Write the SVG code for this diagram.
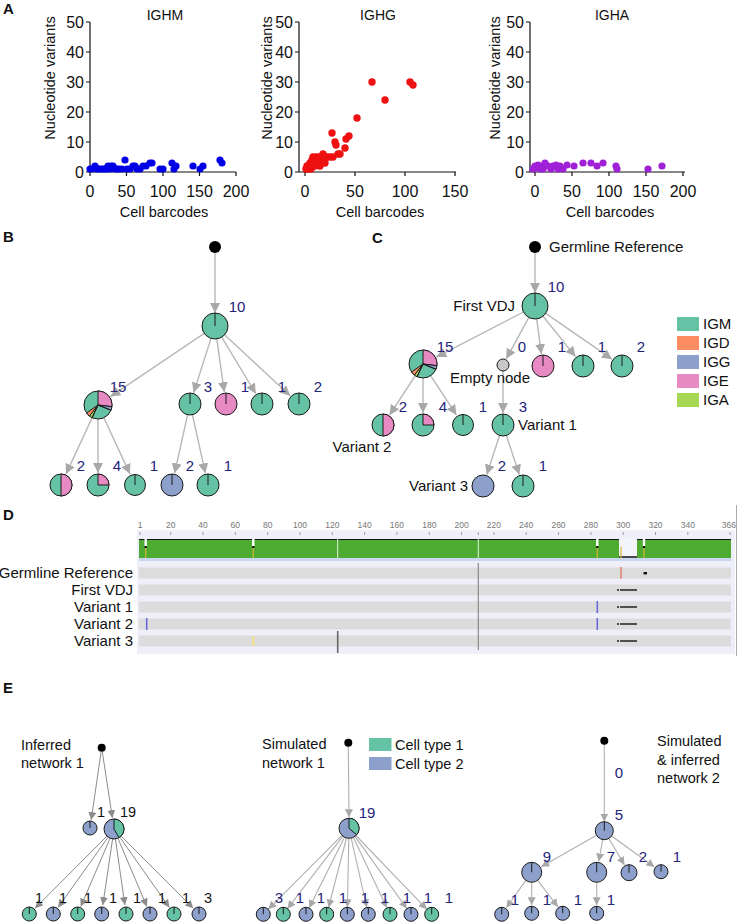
<svg xmlns="http://www.w3.org/2000/svg" width="738" height="923" viewBox="0 0 738 923" font-family="'Liberation Sans', Arial, sans-serif">
<style>
.pl{font-size:15px;font-weight:bold;fill:#111}
.ax{stroke:#111;stroke-width:1.2;fill:none}
.tk{font-size:16px;fill:#111}
.at{font-size:14.5px;fill:#111;text-anchor:middle}
.ttl{font-size:14px;fill:#111;text-anchor:middle}
.lb{font-size:15px;fill:#24247a;text-anchor:middle}
.lk{font-size:14.5px;fill:#111;text-anchor:middle}
.tx{font-size:15px;fill:#111}
.te{font-size:14.5px;fill:#111}
.n{stroke:#1a1a1a;stroke-width:1}
.g{fill:#66c2a5}.b{fill:#8da0cb}.p{fill:#e78ac3}.o{fill:#fc8d62}.y{fill:#a6d854}
.ln{stroke:#1a1a1a;stroke-width:1;fill:none}
.e1{stroke:#b8b8b8;stroke-width:1.4;fill:none;marker-end:url(#ah)}
.e2{stroke:#8c8c8c;stroke-width:1;fill:none;marker-end:url(#ahd)}
.e3{stroke:#b0b0b0;stroke-width:1.1;fill:none;marker-end:url(#ahs)}
.dm{fill:#0000e6}.dg{fill:#ee1111}.da{fill:#a020d8}
.rt{font-size:8.5px;fill:#777;text-anchor:middle}
.rl{font-size:15px;fill:#111;text-anchor:end}
</style>
<defs>
<marker id="ah" viewBox="0 0 10 10" refX="10" refY="5" markerWidth="10" markerHeight="10" markerUnits="userSpaceOnUse" orient="auto"><path d="M0,0L10,5L0,10z" fill="#a8a8a8"/></marker>
<marker id="ahd" viewBox="0 0 10 10" refX="10" refY="5" markerWidth="8" markerHeight="8" markerUnits="userSpaceOnUse" orient="auto"><path d="M0,0L10,5L0,10z" fill="#8c8c8c"/></marker>
<marker id="ahs" viewBox="0 0 10 10" refX="10" refY="5" markerWidth="8" markerHeight="8" markerUnits="userSpaceOnUse" orient="auto"><path d="M0,0L10,5L0,10z" fill="#a8a8a8"/></marker>
</defs>
<rect width="738" height="923" fill="#fff"/>

<!-- ================= Panel A ================= -->
<text class="pl" x="3" y="14">A</text>
<g id="plot-IGHM">
<text class="ttl" x="165" y="20">IGHM</text>
<text class="at" transform="translate(55,78) rotate(-90)">Nucleotide variants</text>
<path class="ax" d="M90,22V172H236M86,22H90M86,52H90M86,82H90M86,112H90M86,142H90M86,172H90M90,172V176M126.5,172V176M163,172V176M199.5,172V176M236,172V176"/>
<g class="tk" text-anchor="end"><text x="84" y="27.5">50</text><text x="84" y="57.5">40</text><text x="84" y="87.5">30</text><text x="84" y="117.5">20</text><text x="84" y="147.5">10</text><text x="84" y="177.5">0</text></g>
<g class="tk" text-anchor="middle"><text x="90" y="197">0</text><text x="126.5" y="197">50</text><text x="163" y="197">100</text><text x="199.5" y="197">150</text><text x="236" y="197">200</text></g>
<text class="at" x="164" y="217">Cell barcodes</text>
<g class="dm">
<circle cx="90" cy="169" r="3.6"/><circle cx="92" cy="169" r="3.6"/><circle cx="95" cy="166" r="3.6"/><circle cx="97" cy="169" r="3.6"/><circle cx="99" cy="169" r="3.6"/><circle cx="101" cy="169" r="3.6"/><circle cx="103" cy="169" r="3.6"/><circle cx="105" cy="169" r="3.6"/><circle cx="107" cy="169" r="3.6"/><circle cx="108" cy="166" r="3.6"/><circle cx="110" cy="169" r="3.6"/><circle cx="111" cy="166" r="3.6"/><circle cx="113" cy="166" r="3.6"/><circle cx="115" cy="169" r="3.6"/><circle cx="117" cy="169" r="3.6"/><circle cx="119" cy="169" r="3.6"/><circle cx="122" cy="169" r="3.6"/><circle cx="125" cy="160" r="3.6"/><circle cx="127" cy="169" r="3.6"/><circle cx="130" cy="169" r="3.6"/><circle cx="133" cy="166" r="3.6"/><circle cx="135" cy="166" r="3.6"/><circle cx="137" cy="169" r="3.6"/><circle cx="140" cy="169" r="3.6"/><circle cx="143" cy="166" r="3.6"/><circle cx="146" cy="166" r="3.6"/><circle cx="150" cy="163" r="3.6"/><circle cx="152" cy="163" r="3.6"/><circle cx="160" cy="169" r="3.6"/><circle cx="163" cy="169" r="3.6"/><circle cx="172" cy="163" r="3.6"/><circle cx="174" cy="169" r="3.6"/><circle cx="176" cy="166" r="3.6"/><circle cx="193" cy="166" r="3.6"/><circle cx="200" cy="169" r="3.6"/><circle cx="203" cy="166" r="3.6"/><circle cx="220" cy="160" r="3.6"/><circle cx="222" cy="163" r="3.6"/>
</g>
</g>

<g id="plot-IGHG">
<text class="ttl" x="378" y="20">IGHG</text>
<text class="at" transform="translate(272,78) rotate(-90)">Nucleotide variants</text>
<path class="ax" d="M299,22V172H456M295,22H299M295,52H299M295,82H299M295,112H299M295,142H299M295,172H299M305,172V176M355,172V176M405,172V176M455,172V176"/>
<g class="tk" text-anchor="end"><text x="293" y="27.5">50</text><text x="293" y="57.5">40</text><text x="293" y="87.5">30</text><text x="293" y="117.5">20</text><text x="293" y="147.5">10</text><text x="293" y="177.5">0</text></g>
<g class="tk" text-anchor="middle"><text x="305" y="197">0</text><text x="355" y="197">50</text><text x="405" y="197">100</text><text x="455" y="197">150</text></g>
<text class="at" x="380" y="217">Cell barcodes</text>
<g class="dg">
<circle cx="306" cy="169" r="3.7"/><circle cx="307" cy="166" r="3.7"/><circle cx="308" cy="169" r="3.7"/><circle cx="309" cy="166" r="3.7"/><circle cx="310" cy="163" r="3.7"/><circle cx="311" cy="169" r="3.7"/><circle cx="312" cy="160" r="3.7"/><circle cx="312" cy="166" r="3.7"/><circle cx="313" cy="157" r="3.7"/><circle cx="314" cy="163" r="3.7"/><circle cx="315" cy="166" r="3.7"/><circle cx="315" cy="160" r="3.7"/><circle cx="316" cy="157" r="3.7"/><circle cx="317" cy="163" r="3.7"/><circle cx="318" cy="160" r="3.7"/><circle cx="319" cy="157" r="3.7"/><circle cx="320" cy="166" r="3.7"/><circle cx="320" cy="160" r="3.7"/><circle cx="321" cy="163" r="3.7"/><circle cx="322" cy="157" r="3.7"/><circle cx="323" cy="154" r="3.7"/><circle cx="324" cy="160" r="3.7"/><circle cx="325" cy="157" r="3.7"/><circle cx="325" cy="163" r="3.7"/><circle cx="327" cy="157" r="3.7"/><circle cx="330" cy="157" r="3.7"/><circle cx="332" cy="133" r="3.7"/><circle cx="333" cy="157" r="3.7"/><circle cx="335" cy="142" r="3.7"/><circle cx="336" cy="145" r="3.7"/><circle cx="338" cy="154" r="3.7"/><circle cx="340" cy="154" r="3.7"/><circle cx="345" cy="148" r="3.7"/><circle cx="346" cy="139" r="3.7"/><circle cx="349" cy="136" r="3.7"/><circle cx="357" cy="118" r="3.7"/><circle cx="372" cy="82" r="3.7"/><circle cx="385" cy="100" r="3.7"/><circle cx="410" cy="82" r="3.7"/><circle cx="413" cy="85" r="3.7"/>
</g>
</g>

<g id="plot-IGHA">
<text class="ttl" x="612" y="20">IGHA</text>
<text class="at" transform="translate(500,78) rotate(-90)">Nucleotide variants</text>
<path class="ax" d="M530,22V172H685M526,22H530M526,52H530M526,82H530M526,112H530M526,142H530M526,172H530M535,172V176M572,172V176M609,172V176M646,172V176M683,172V176"/>
<g class="tk" text-anchor="end"><text x="524" y="27.5">50</text><text x="524" y="57.5">40</text><text x="524" y="87.5">30</text><text x="524" y="117.5">20</text><text x="524" y="147.5">10</text><text x="524" y="177.5">0</text></g>
<g class="tk" text-anchor="middle"><text x="535" y="197">0</text><text x="572" y="197">50</text><text x="609" y="197">100</text><text x="646" y="197">150</text><text x="683" y="197">200</text></g>
<text class="at" x="610" y="217">Cell barcodes</text>
<g class="da">
<circle cx="533" cy="169" r="3.6"/><circle cx="535" cy="166" r="3.6"/><circle cx="537" cy="168" r="3.6"/><circle cx="538" cy="165" r="3.6"/><circle cx="540" cy="166" r="3.6"/><circle cx="541" cy="169" r="3.6"/><circle cx="543" cy="169" r="3.6"/><circle cx="545" cy="163" r="3.6"/><circle cx="548" cy="166" r="3.6"/><circle cx="551" cy="169" r="3.6"/><circle cx="553" cy="166" r="3.6"/><circle cx="556" cy="165" r="3.6"/><circle cx="558" cy="169" r="3.6"/><circle cx="560" cy="166" r="3.6"/><circle cx="563" cy="169" r="3.6"/><circle cx="567" cy="165" r="3.6"/><circle cx="574" cy="166" r="3.6"/><circle cx="583" cy="163" r="3.6"/><circle cx="591" cy="163" r="3.6"/><circle cx="597" cy="166" r="3.6"/><circle cx="603" cy="163" r="3.6"/><circle cx="616" cy="166" r="3.6"/><circle cx="617" cy="169" r="3.6"/><circle cx="648" cy="169" r="3.6"/><circle cx="662" cy="166" r="3.6"/>
</g>
</g>

<!-- ================= Panel B ================= -->
<text class="pl" x="3" y="242">B</text>
<g id="B-edges">
<path class="e1" d="M215,253V313"/>
<path class="e1" d="M204.2,333.3L110.4,396.6"/>
<path class="e1" d="M211,338.4L193.7,392.6"/>
<path class="e1" d="M216.8,338.9L224.3,392.1"/>
<path class="e1" d="M221.7,337.1L255.8,393.7"/>
<path class="e1" d="M224.5,334.8L290.2,395.8"/>
<path class="e1" d="M92.1,417.7L66,474.1"/>
<path class="e1" d="M98,419V473"/>
<path class="e1" d="M103.9,417.7L130,474.1"/>
<path class="e1" d="M187.6,414.7L174.6,473.3"/>
<path class="e1" d="M192.4,414.7L205.4,473.3"/>
</g>
<g id="B-root"><circle cx="215" cy="247" r="6" fill="#000"/></g>
<g id="B-n10" transform="translate(215,326)"><circle class="n g" r="13"/><path class="ln" d="M0,0V-13"/></g>
<g id="B-n15" transform="translate(98,405)"><circle class="n g" r="14"/>
<path class="n p" d="M0,0L0,-14A14,14 0 0 1 13.9,1.71Z"/><path class="n b" d="M0,0L13.9,1.71A14,14 0 0 1 12.98,5.24Z"/><path class="n y" d="M0,0L-5.92,12.69A14,14 0 0 1 -8.62,11.03Z"/><path class="n o" d="M0,0L-8.62,11.03A14,14 0 0 1 -11.47,8.03Z"/><path class="ln" d="M0,0L12.98,5.24M0,0L-5.92,12.69"/></g>
<g id="B-n3" transform="translate(190,404)"><circle class="n g" r="11"/><path class="ln" d="M0,0V-11"/></g>
<g id="B-pink" transform="translate(226,404)"><circle class="n p" r="11"/><path class="ln" d="M0,0V-11"/></g>
<g id="B-g1" transform="translate(262,404)"><circle class="n g" r="11"/><path class="ln" d="M0,0V-11"/></g>
<g id="B-g2" transform="translate(299,404)"><circle class="n g" r="11"/><path class="ln" d="M0,0V-11"/></g>
<g id="B-half" transform="translate(61,485)"><circle class="n g" r="11"/><path class="n p" d="M0,-11A11,11 0 0 1 0,11Z"/></g>
<g id="B-quarter" transform="translate(98,485)"><circle class="n g" r="11"/><path class="n p" d="M0,0L0,-11A11,11 0 0 1 11,0Z"/></g>
<g id="B-g3" transform="translate(135,485)"><circle class="n g" r="10.5"/><path class="ln" d="M0,0V-10.5"/></g>
<g id="B-blue" transform="translate(172,485)"><circle class="n b" r="11"/><path class="ln" d="M0,0V-11"/></g>
<g id="B-g4" transform="translate(208,485)"><circle class="n g" r="11"/><path class="ln" d="M0,0V-11"/></g>
<g id="B-labels">
<text class="lb" x="237" y="312">10</text>
<text class="lb" x="118" y="392">15</text><text class="lb" x="208" y="392">3</text><text class="lb" x="245" y="392">1</text><text class="lb" x="282" y="392">1</text><text class="lb" x="318" y="392">2</text>
<text class="lb" x="81" y="471">2</text><text class="lb" x="117" y="471">4</text><text class="lb" x="154" y="471">1</text><text class="lb" x="190" y="471">2</text><text class="lb" x="228" y="471">1</text>
</g>

<!-- ================= Panel C ================= -->
<text class="pl" x="372" y="243">C</text>
<g id="C-edges">
<path class="e1" d="M535,253V293"/>
<path class="e1" d="M523.5,312L436.3,357.1"/>
<path class="e1" d="M528.8,317.4L506.3,358.8"/>
<path class="e1" d="M536.7,318.9L541.4,354.1"/>
<path class="e1" d="M543.1,316.2L575.5,356.6"/>
<path class="e1" d="M545.7,313.4L612.1,359.2"/>
<path class="e1" d="M503,371V413"/>
<path class="e1" d="M415.3,375.7L389.6,415"/>
<path class="e1" d="M423,378V413"/>
<path class="e1" d="M430.7,375.7L456.4,415"/>
<path class="e1" d="M499.6,435.5L486.7,474.6"/>
<path class="e1" d="M506.4,435.5L519.3,474.6"/>
</g>
<g id="C-root"><circle cx="535" cy="247" r="6" fill="#000"/><text class="tx" x="549" y="252">Germline Reference</text></g>
<g id="C-first"><g transform="translate(535,306)"><circle class="n g" r="13"/><path class="ln" d="M0,0V-13"/></g><text class="tx" x="515" y="311" text-anchor="end">First VDJ</text></g>
<g id="C-n15" transform="translate(423,364)"><circle class="n g" r="14"/>
<path class="n p" d="M0,0L0,-14A14,14 0 0 1 13.9,1.71Z"/><path class="n b" d="M0,0L13.9,1.71A14,14 0 0 1 12.98,5.24Z"/><path class="n y" d="M0,0L-5.92,12.69A14,14 0 0 1 -8.62,11.03Z"/><path class="n o" d="M0,0L-8.62,11.03A14,14 0 0 1 -11.47,8.03Z"/><path class="ln" d="M0,0L12.98,5.24M0,0L-5.92,12.69"/></g>
<g id="C-empty"><circle class="n" cx="503" cy="365" r="6" fill="#c8c8c8"/><text class="tx" x="490" y="383" text-anchor="middle">Empty node</text></g>
<g id="C-pink" transform="translate(543,366)"><circle class="n p" r="11"/><path class="ln" d="M0,0V-11"/></g>
<g id="C-g1" transform="translate(583,366)"><circle class="n g" r="11"/><path class="ln" d="M0,0V-11"/></g>
<g id="C-g2" transform="translate(622,366)"><circle class="n g" r="11"/><path class="ln" d="M0,0V-11"/></g>
<g id="C-var2"><g transform="translate(383,425)"><circle class="n g" r="11"/><path class="n p" d="M0,-11A11,11 0 0 1 0,11Z"/></g><text class="tx" x="362" y="452" text-anchor="middle">Variant 2</text></g>
<g id="C-quarter" transform="translate(423,425)"><circle class="n g" r="11"/><path class="n p" d="M0,0L0,-11A11,11 0 0 1 11,0Z"/></g>
<g id="C-g3" transform="translate(463,425)"><circle class="n g" r="10.5"/><path class="ln" d="M0,0V-10.5"/></g>
<g id="C-var1"><g transform="translate(503,425)"><circle class="n g" r="11"/><path class="ln" d="M0,0V-11"/></g><text class="tx" x="518" y="430">Variant 1</text></g>
<g id="C-var3"><g transform="translate(483,486)"><circle class="n b" r="11"/></g><text class="tx" x="468" y="491" text-anchor="end">Variant 3</text></g>
<g id="C-g4" transform="translate(523,486)"><circle class="n g" r="11"/><path class="ln" d="M0,0V-11"/></g>
<g id="C-labels">
<text class="lb" x="556" y="292">10</text>
<text class="lb" x="445" y="352">15</text><text class="lb" x="522" y="352">0</text><text class="lb" x="562" y="352">1</text><text class="lb" x="602" y="352">1</text><text class="lb" x="641" y="352">2</text>
<text class="lb" x="403" y="412">2</text><text class="lb" x="443" y="412">4</text><text class="lb" x="483" y="412">1</text><text class="lb" x="523" y="412">3</text>
<text class="lb" x="502" y="471">2</text><text class="lb" x="543" y="471">1</text>
</g>
<g id="legend-isotype">
<rect class="g" x="677" y="317" width="22" height="14"/><text class="tx" x="703" y="329">IGM</text>
<rect class="o" x="677" y="336" width="22" height="14"/><text class="tx" x="703" y="348">IGD</text>
<rect class="b" x="677" y="355" width="22" height="14"/><text class="tx" x="703" y="367">IGG</text>
<rect class="p" x="677" y="374" width="22" height="14"/><text class="tx" x="703" y="386">IGE</text>
<rect class="y" x="677" y="393" width="22" height="14"/><text class="tx" x="703" y="405">IGA</text>
</g>

<!-- ================= Panel D ================= -->
<text class="pl" x="3" y="520">D</text>
<g id="D-alignment">
<rect x="137" y="530" width="598" height="124" fill="#efeffa"/>
<g class="rt">
<text x="140" y="528">1</text><text x="170.7" y="528">20</text><text x="203" y="528">40</text><text x="235.3" y="528">60</text><text x="267.7" y="528">80</text><text x="300" y="528">100</text><text x="332.3" y="528">120</text><text x="364.6" y="528">140</text><text x="396.9" y="528">160</text><text x="429.3" y="528">180</text><text x="461.6" y="528">200</text><text x="493.9" y="528">220</text><text x="526.2" y="528">240</text><text x="558.5" y="528">260</text><text x="590.9" y="528">280</text><text x="623.2" y="528">300</text><text x="655.5" y="528">320</text><text x="687.8" y="528">340</text><text x="736" y="528" text-anchor="end">366</text>
</g>
<path stroke="#888" stroke-width="0.8" d="M140,532V535M170.7,532V535M203,532V535M235.3,532V535M267.7,532V535M300,532V535M332.3,532V535M364.6,532V535M396.9,532V535M429.3,532V535M461.6,532V535M493.9,532V535M526.2,532V535M558.5,532V535M590.9,532V535M623.2,532V535M655.5,532V535M687.8,532V535M730,532V535M478.3,532V535"/>
<rect x="139" y="539" width="592" height="19" fill="#4dab32"/>
<path d="M139,539.5H731" stroke="#111" stroke-width="1.2"/>
<rect x="139" y="558" width="592" height="3" fill="#c9d6f0"/>
<rect x="619" y="538" width="18" height="20" fill="#f4f4fb"/>
<path d="M619,557H637" stroke="#111" stroke-width="1.5"/>
<path d="M337.7,539V558M478.3,539V558" stroke="#e8f0e0" stroke-width="1"/>
<g fill="#fff"><rect x="144.5" y="538" width="2.4" height="8"/><rect x="252.1" y="538" width="2.4" height="8"/><rect x="596.1" y="538" width="2.4" height="8"/><rect x="642.8" y="538" width="2.4" height="8"/></g>
<g fill="#111"><rect x="144.6" y="546" width="2.2" height="2"/><rect x="252.2" y="546" width="2.2" height="2"/><rect x="596.2" y="546" width="2.2" height="2"/><rect x="642.9" y="546" width="2.2" height="2"/></g>
<path d="M145.7,548V558M253.3,548V558M597.3,548V558M644,548V558M621,547V558" stroke="#d8b83a" stroke-width="1.2"/>
<g fill="#dcdcdc">
<rect x="139" y="567.5" width="592" height="11"/>
<rect x="139" y="584.5" width="592" height="11"/>
<rect x="139" y="601.5" width="592" height="11"/>
<rect x="139" y="618.5" width="592" height="11"/>
<rect x="139" y="635.5" width="592" height="11"/>
</g>
<path d="M478.3,563V650" stroke="#8a8a8a" stroke-width="1.2"/>
<path d="M337.7,631V653" stroke="#666" stroke-width="1.6"/>
<path d="M621,567V579" stroke="#e07060" stroke-width="1.3"/>
<rect x="643.5" y="572" width="3.5" height="2.4" fill="#111"/>
<path d="M620,590H637M620,607H637M620,624H637M620,641H637" stroke="#222" stroke-width="1.6"/>
<g fill="#222"><circle cx="618" cy="590" r="1"/><circle cx="618" cy="607" r="1"/><circle cx="618" cy="624" r="1"/><circle cx="618" cy="641" r="1"/></g>
<path d="M597.3,601V613M597.3,618V630M146.7,618V630" stroke="#6a6ae0" stroke-width="1.6"/>
<path d="M253.3,636V646" stroke="#eee08a" stroke-width="2.2"/>
<path d="M736.5,505V656" stroke="#aaa" stroke-width="1"/>
</g>
<g id="D-rowlabels">
<text class="rl" x="133" y="578">Germline Reference</text>
<text class="rl" x="133" y="595">First VDJ</text>
<text class="rl" x="133" y="612">Variant 1</text>
<text class="rl" x="133" y="629">Variant 2</text>
<text class="rl" x="133" y="646">Variant 3</text>
</g>

<!-- ================= Panel E ================= -->
<text class="pl" x="3" y="693">E</text>
<!-- Inferred network 1 -->
<g id="E1-edges">
<path class="e2" d="M101.1,751.7L91.2,820.1"/>
<path class="e2" d="M102.3,751.7L112.4,818.1"/>
<path class="e2" d="M106.9,836.1L35,908.3"/>
<path class="e2" d="M108.2,837.1L58,907.5"/>
<path class="e2" d="M110.1,838.2L80.8,906.6"/>
<path class="e2" d="M112.6,838.9L102.8,905.1"/>
<path class="e2" d="M115.4,838.9L124.9,905.1"/>
<path class="e2" d="M117.9,838.2L146.9,906.6"/>
<path class="e2" d="M119.8,837.2L169.4,907.5"/>
<path class="e2" d="M121.1,836.1L193.3,908.3"/>
</g>
<g id="E1-title"><text class="te" x="21" y="750">Inferred</text><text class="te" x="21" y="768">network 1</text></g>
<g id="E1-root"><circle cx="101.7" cy="747.7" r="4" fill="#000"/></g>
<g id="E1-small" transform="translate(90,828)"><circle class="n b" r="7"/><path class="ln" d="M0,0V-7"/></g>
<g id="E1-big" transform="translate(114,829)"><circle class="n b" r="10"/><path class="n g" d="M0,0L0,-10A10,10 0 0 1 5,8.66Z"/></g>
<g id="E1-leaves">
<g transform="translate(29.3,914)"><circle class="n g" r="7"/><path class="ln" d="M0,0V-7"/></g>
<g transform="translate(53.3,914)"><circle class="n b" r="7"/><path class="ln" d="M0,0V-7"/></g>
<g transform="translate(77.7,914)"><circle class="n g" r="7"/><path class="ln" d="M0,0V-7"/></g>
<g transform="translate(101.7,914)"><circle class="n b" r="7"/><path class="ln" d="M0,0V-7"/></g>
<g transform="translate(126,914)"><circle class="n g" r="7"/><path class="ln" d="M0,0V-7"/></g>
<g transform="translate(150,914)"><circle class="n b" r="7"/><path class="ln" d="M0,0V-7"/></g>
<g transform="translate(174,914)"><circle class="n g" r="7"/><path class="ln" d="M0,0V-7"/></g>
<g transform="translate(199,914)"><circle class="n b" r="7"/><path class="ln" d="M0,0V-7"/></g>
</g>
<g id="E1-labels">
<text class="lk" x="101" y="817">1</text><text class="lk" x="128" y="817">19</text>
<text class="lk" x="39" y="903">1</text><text class="lk" x="63" y="903">1</text><text class="lk" x="88" y="903">1</text><text class="lk" x="113" y="903">1</text><text class="lk" x="137" y="903">1</text><text class="lk" x="162" y="903">1</text><text class="lk" x="186" y="903">1</text><text class="lk" x="208" y="903">3</text>
</g>

<!-- Simulated network 1 -->
<g id="E2-edges">
<path class="e3" d="M348.3,746.7L349,817.3"/>
<path class="e3" d="M341.9,835.4L268.2,909.3"/>
<path class="e3" d="M342.9,836.2L287.5,908.7"/>
<path class="e3" d="M344.5,837.2L309.1,908"/>
<path class="e3" d="M346.5,838L328.5,907.5"/>
<path class="e3" d="M348.8,838.3L347.4,907.3"/>
<path class="e3" d="M351.2,838.1L366.8,907.5"/>
<path class="e3" d="M353.3,837.3L387,908"/>
<path class="e3" d="M354.9,836.4L406.9,908.6"/>
<path class="e3" d="M355.9,835.5L426.9,909.3"/>
</g>
<g id="E2-title"><text class="te" x="262" y="749">Simulated</text><text class="te" x="262" y="768">network 1</text></g>
<g id="E2-root"><circle cx="348.3" cy="742.7" r="4" fill="#000"/></g>
<g id="E2-legend">
<rect class="g" x="369" y="738" width="22.5" height="13"/><text class="te" x="395" y="750">Cell type 1</text>
<rect class="b" x="369" y="757" width="22.5" height="13"/><text class="te" x="395" y="769">Cell type 2</text>
</g>
<g id="E2-big" transform="translate(349,828.3)"><circle class="n b" r="10"/><path class="n g" d="M0,0L0,-10A10,10 0 0 1 7.66,6.43Z"/></g>
<g id="E2-leaves">
<g transform="translate(263.3,914.3)"><circle class="n b" r="7"/><path class="ln" d="M0,0V-7"/></g>
<g transform="translate(283.3,914.3)"><circle class="n g" r="7"/><path class="ln" d="M0,0V-7"/></g>
<g transform="translate(306,914.3)"><circle class="n b" r="7"/><path class="ln" d="M0,0V-7"/></g>
<g transform="translate(326.7,914.3)"><circle class="n g" r="7"/><path class="ln" d="M0,0V-7"/></g>
<g transform="translate(347.3,914.3)"><circle class="n b" r="7"/><path class="ln" d="M0,0V-7"/></g>
<g transform="translate(368.3,914.3)"><circle class="n b" r="7"/><path class="ln" d="M0,0V-7"/></g>
<g transform="translate(390,914.3)"><circle class="n g" r="7"/><path class="ln" d="M0,0V-7"/></g>
<g transform="translate(411,914.3)"><circle class="n b" r="7"/><path class="ln" d="M0,0V-7"/></g>
<g transform="translate(431.7,914.3)"><circle class="n g" r="7"/><path class="ln" d="M0,0V-7"/></g>
</g>
<g id="E2-labels">
<text class="lb" x="367" y="818">19</text>
<text class="lb" x="279" y="903">3</text><text class="lb" x="300" y="903">1</text><text class="lb" x="321" y="903">1</text><text class="lb" x="343" y="903">1</text><text class="lb" x="365" y="903">1</text><text class="lb" x="385" y="903">1</text><text class="lb" x="407" y="903">1</text><text class="lb" x="428" y="903">1</text><text class="lb" x="449" y="903">1</text>
</g>

<!-- Simulated & inferred network 2 -->
<g id="E3-edges">
<path class="e3" d="M604.3,744.7V821.7"/>
<path class="e3" d="M596.5,835.2L541.2,866.8"/>
<path class="e3" d="M602.7,839.6L598.7,861.5"/>
<path class="e3" d="M608.9,838.5L624.4,864.9"/>
<path class="e3" d="M611.6,836L654.5,867"/>
<path class="e3" d="M525.9,880.4L506.3,907.8"/>
<path class="e3" d="M531.7,882.3V905.3"/>
<path class="e3" d="M537.7,880.3L557.9,906.9"/>
<path class="e3" d="M596.7,882.3V905.3"/>
</g>
<g id="E3-title"><text class="te" x="657" y="746">Simulated</text><text class="te" x="657" y="765">&amp; inferred</text><text class="te" x="657" y="783">network 2</text></g>
<g id="E3-root"><circle cx="604.3" cy="740.7" r="4" fill="#000"/></g>
<g id="E3-n5" transform="translate(604.3,830.7)"><circle class="n b" r="9"/><path class="ln" d="M0,0V-9"/></g>
<g id="E3-n9" transform="translate(531.7,872.3)"><circle class="n b" r="10"/><path class="ln" d="M0,0V-10"/></g>
<g id="E3-n7" transform="translate(596.7,872.3)"><circle class="n b" r="10"/><path class="ln" d="M0,0V-10"/></g>
<g id="E3-n2" transform="translate(629,872.7)"><circle class="n b" r="8"/><path class="ln" d="M0,0V-8"/></g>
<g id="E3-n1" transform="translate(661,871.7)"><circle class="n b" r="7"/><path class="ln" d="M0,0V-7"/></g>
<g id="E3-leaves">
<g transform="translate(501.7,914.3)"><circle class="n b" r="7"/><path class="ln" d="M0,0V-7"/></g>
<g transform="translate(531.7,913.3)"><circle class="n b" r="7"/><path class="ln" d="M0,0V-7"/></g>
<g transform="translate(562.7,913.3)"><circle class="n b" r="7"/><path class="ln" d="M0,0V-7"/></g>
<g transform="translate(596.7,913.3)"><circle class="n b" r="7"/><path class="ln" d="M0,0V-7"/></g>
</g>
<g id="E3-labels">
<text class="lb" x="619" y="778">0</text><text class="lb" x="619" y="820">5</text>
<text class="lb" x="547" y="862">9</text><text class="lb" x="611" y="862">7</text><text class="lb" x="643" y="862">2</text><text class="lb" x="677" y="862">1</text>
<text class="lb" x="515" y="905">1</text><text class="lb" x="547" y="905">1</text><text class="lb" x="578" y="905">1</text><text class="lb" x="611" y="905">1</text>
</g>
</svg>
